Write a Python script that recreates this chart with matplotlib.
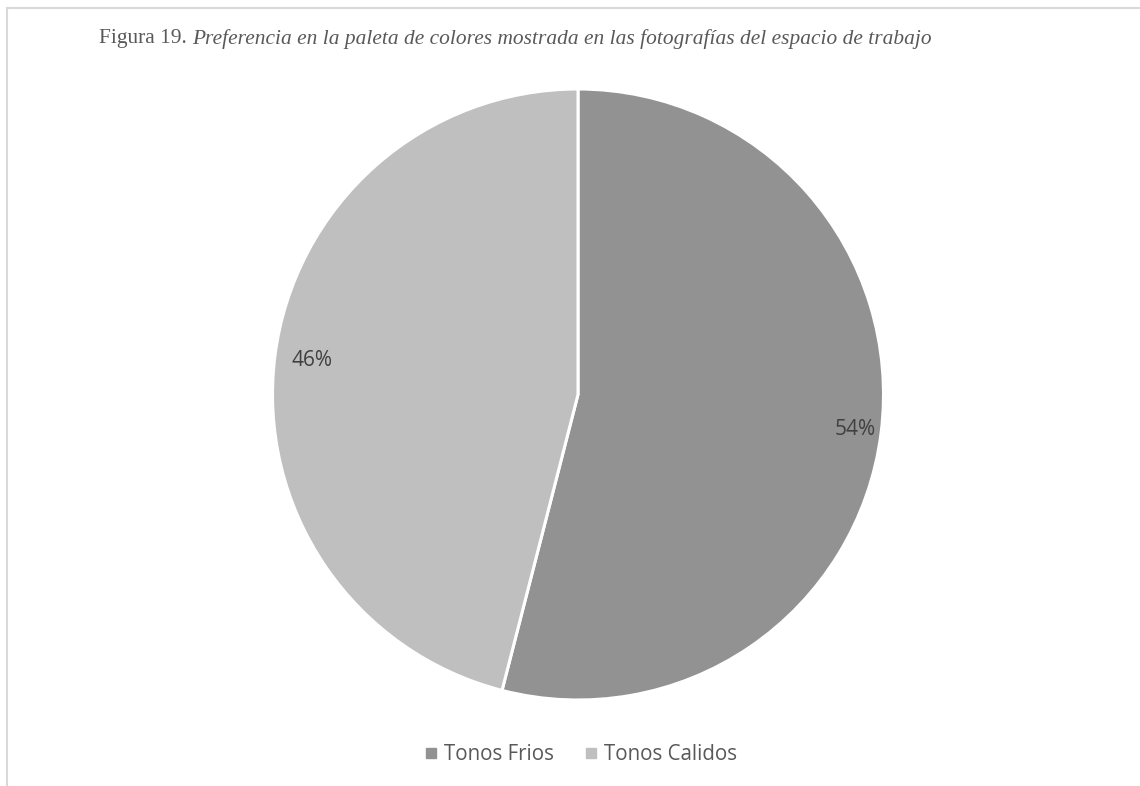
import matplotlib
matplotlib.use('Agg')
import matplotlib.pyplot as plt
from matplotlib.lines import Line2D
import numpy as np

labels = ['Tonos Frios', 'Tonos Calidos']
values = [54, 46]
colors = ['#929292', '#bfbfbf']

W, H = 1140, 786
fig = plt.figure(figsize=(W / 100, H / 100), dpi=100)
fig.patch.set_facecolor('white')

# pie area: centre (578, 394.5) px, radius 305.5 px
cx, cy, r = 578, 394.5, 305.5
ax = fig.add_axes([(cx - r) / W, (H - cy - r) / H, 2 * r / W, 2 * r / H])
wedges, _, pcts = ax.pie(values, colors=colors, startangle=90, counterclock=False,
                         autopct='%1.0f%%', pctdistance=0.9,
                         wedgeprops=dict(edgecolor='white', linewidth=2.2),
                         textprops=dict(fontfamily='Open Sans', fontsize=15, color='#404040'))
# pull labels to where they sit inside each slice
for t, w, d in zip(pcts, wedges, [0.913, 0.876]):
    ang = np.deg2rad((w.theta1 + w.theta2) / 2)
    t.set_position((d * np.cos(ang), d * np.sin(ang)))
ax.set_xlim(-1, 1)
ax.set_ylim(-1, 1)
ax.axis('off')

# legend
handles = [Line2D([], [], marker='s', linestyle='none', markersize=7,
                  markerfacecolor=c, markeredgecolor=c) for c in colors]
fig.legend(handles, labels, loc='center', bbox_to_anchor=(581 / W, 1 - 755 / H),
           ncol=2, frameon=False, handlelength=0.6, handletextpad=0.35,
           columnspacing=1.5, prop=dict(family='Open Sans', size=14.8),
           labelcolor='#595959')

# chart border (top and left only)
fig.add_artist(Line2D([7 / W, 1], [1 - 8 / H, 1 - 8 / H], color='#d9d9d9', lw=1.5))
fig.add_artist(Line2D([7 / W, 7 / W], [0, 1 - 8 / H], color='#d9d9d9', lw=1.5))

# title: plain prefix + italic caption
t1 = fig.text(99 / W, 1 - 39 / H, 'Figura 19. ', family='Liberation Serif', size=15.4,
              color='#595959', va='center')
fig.canvas.draw()
bb = t1.get_window_extent()
fig.text(bb.x1 / W, 1 - 39 / H,
         'Preferencia en la paleta de colores mostrada en las fotografías del espacio de trabajo',
         family='Liberation Serif', style='italic', size=15.4, color='#595959', va='center')

fig.savefig('out.png', dpi=100, facecolor='white')
